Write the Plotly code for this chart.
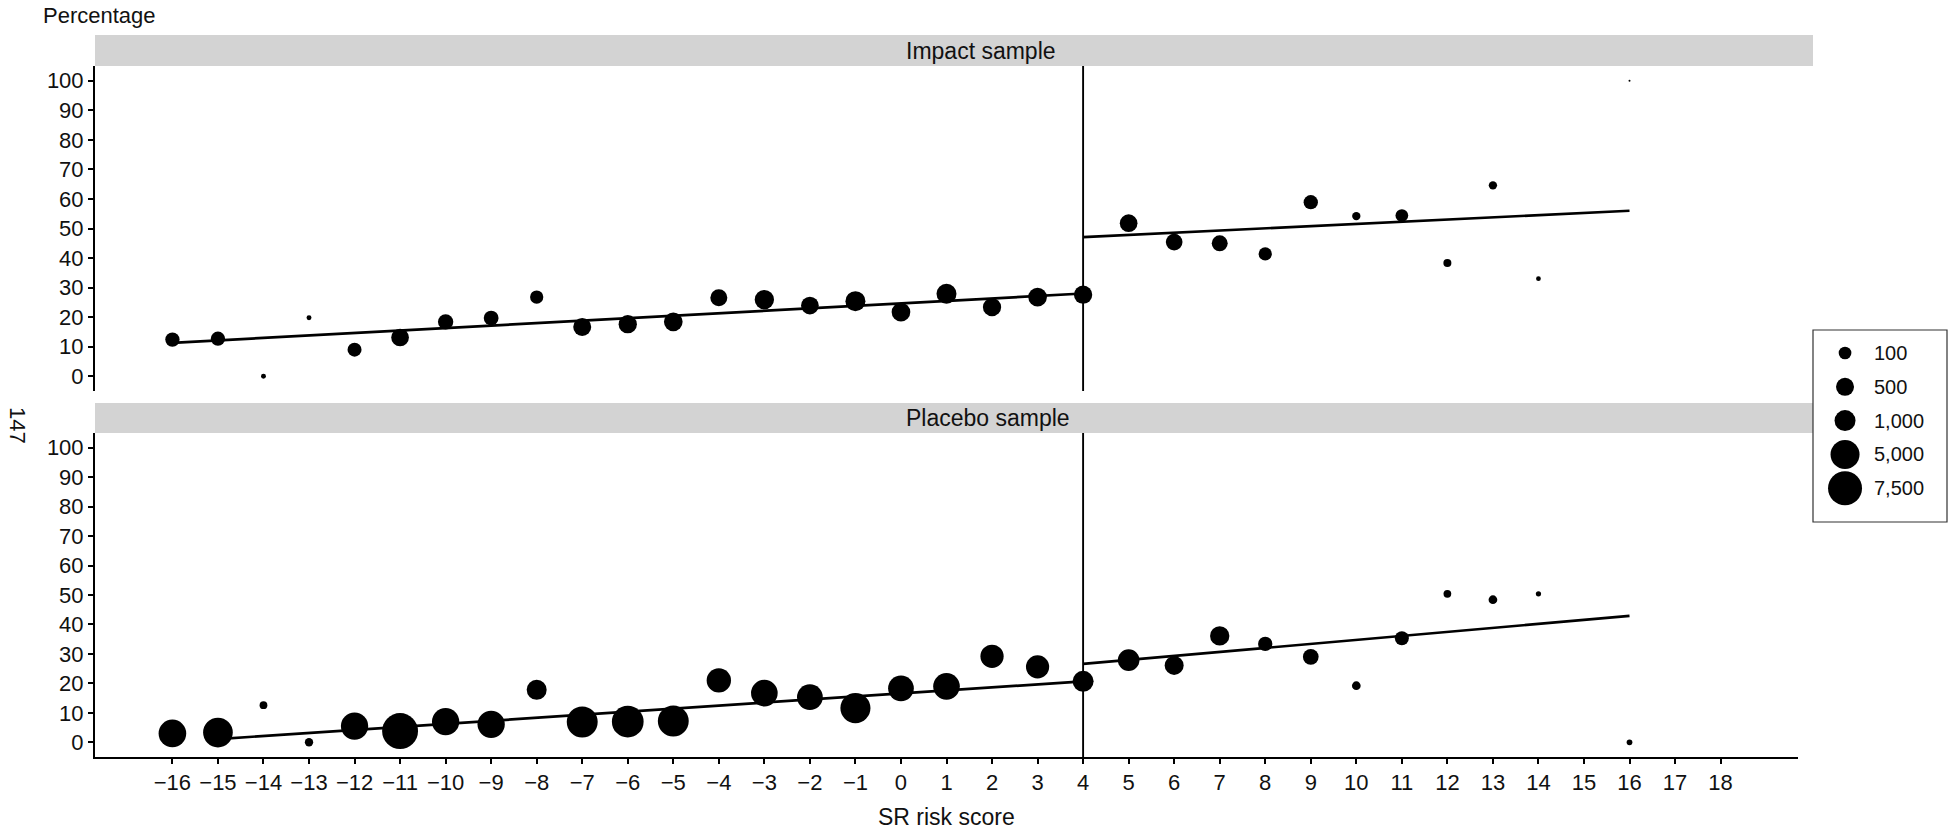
import numpy as np
import plotly.graph_objects as go

# ---------------- data ----------------
scores = list(range(-16, 15)) + [16]
x_ticks = list(range(-16, 19))
y_ticks = list(range(0, 101, 10))
cutoff = 4

impact_pct = [12.4, 12.7, 0, 19.8, 9.0, 13.1, 18.4, 19.7, 26.8, 16.7, 17.6, 18.4,
              26.6, 25.9, 23.9, 25.4, 21.7, 27.9, 23.4, 26.8, 27.6, 51.8, 45.4, 45.0,
              41.4, 58.9, 54.2, 54.4, 38.3, 64.6, 33.0, 100]
impact_n = [190, 190, 12, 12, 170, 470, 260, 220, 130, 500, 540, 600, 400, 700, 470,
            810, 600, 810, 540, 600, 540, 470, 370, 310, 130, 190, 40, 100, 37, 40, 11, 1]

placebo_pct = [3.0, 3.3, 12.6, 0, 5.5, 3.8, 7.0, 6.1, 17.8, 6.9, 7.0, 7.2, 21.0, 16.7,
               15.3, 11.6, 18.3, 19.0, 29.2, 25.6, 20.7, 27.9, 26.1, 36.1, 33.4, 29.0,
               19.2, 35.3, 50.4, 48.4, 50.4, 0]
placebo_n = [4100, 5300, 34, 40, 3900, 8600, 3900, 3900, 810, 5900, 6300, 5900, 2300,
             3500, 3000, 5500, 3000, 3500, 1800, 1800, 1000, 1200, 650, 700, 190, 290,
             44, 170, 34, 44, 14, 17]

# fitted lines (left / right of cutoff)
impact_fit_left_x = [-16, 4]
impact_fit_left_y = [11.3, 28.0]
impact_fit_right_x = [4, 16]
impact_fit_right_y = [47.1, 56.0]
placebo_fit_left_x = [-15, 4]
placebo_fit_left_y = [1.1, 20.7]
placebo_fit_right_x = [4, 16]
placebo_fit_right_y = [26.6, 42.9]

legend_values = [100, 500, 1000, 5000, 7500]
legend_labels = ["100", "500", "1,000", "5,000", "7,500"]

panel_titles = ["Impact sample", "Placebo sample"]

# ---------------- size scale ----------------
scale_n = [1, 100, 500, 1000, 5000, 7500, 10000]
scale_px = [2, 12.7, 18, 21, 29, 34, 38.2]


def diam(n):
    return np.interp(np.sqrt(np.asarray(n, dtype=float)), np.sqrt(scale_n), scale_px)


# ---------------- geometry (pixels) ----------------
W, H = 1959, 833
ML, MR, MT, MB = 95, 10, 35, 76
PW = W - ML - MR
PH = H - MT - MB


def px(xp):
    return (xp - ML) / PW


def py(yp):
    return (H - MB - yp) / PH


FONT = "Arial, 'Liberation Sans', sans-serif"
TXT = "#111111"

x_dom = [0, px(1798)]
top_dom = [py(391), py(66)]
bot_dom = [0, py(433)]
strip_top = [py(66), py(35)]
strip_bot = [py(433), py(403)]

fig = go.Figure()

for pct, n, flx, fly, frx, fry, xa, ya in [
    (impact_pct, impact_n, impact_fit_left_x, impact_fit_left_y,
     impact_fit_right_x, impact_fit_right_y, "x", "y"),
    (placebo_pct, placebo_n, placebo_fit_left_x, placebo_fit_left_y,
     placebo_fit_right_x, placebo_fit_right_y, "x2", "y2"),
]:
    fig.add_trace(go.Scatter(x=scores, y=pct, mode="markers", xaxis=xa, yaxis=ya,
                             marker=dict(color="black", opacity=1, size=diam(n),
                                         line=dict(width=0)),
                             showlegend=False, hoverinfo="skip"))
    fig.add_trace(go.Scatter(x=flx, y=fly, mode="lines", xaxis=xa, yaxis=ya,
                             line=dict(color="black", width=2.7), showlegend=False))
    fig.add_trace(go.Scatter(x=frx, y=fry, mode="lines", xaxis=xa, yaxis=ya,
                             line=dict(color="black", width=2.7), showlegend=False))

# size legend on its own small axis pair
fig.add_trace(go.Scatter(x=[0.239] * len(legend_values), y=list(range(len(legend_values))),
                         mode="markers", xaxis="x3", yaxis="y3",
                         marker=dict(color="black", opacity=1, size=diam(legend_values),
                                     line=dict(width=0)),
                         showlegend=False, hoverinfo="skip"))

yax_common = dict(range=[-5, 105], tickvals=y_ticks, ticks="outside", ticklen=5,
                  tickwidth=1.5, tickcolor="black", showline=True, linewidth=2,
                  linecolor="black", showgrid=False, zeroline=False,
                  tickfont=dict(family=FONT, size=22, color=TXT))

fig.update_layout(
    width=W, height=H,
    margin=dict(l=ML, r=MR, t=MT, b=MB),
    plot_bgcolor="white", paper_bgcolor="white",
    showlegend=False,
    xaxis=dict(domain=x_dom, anchor="y", range=[-17.7, 19.7], showticklabels=False,
               ticks="", showline=False, showgrid=False, zeroline=False),
    yaxis=dict(domain=top_dom, anchor="x", **yax_common),
    xaxis2=dict(domain=x_dom, anchor="y2", range=[-17.7, 19.7], tickvals=x_ticks,
                ticks="outside", ticklen=5, tickwidth=1.5, tickcolor="black",
                showline=True, linewidth=2, linecolor="black", showgrid=False,
                zeroline=False, tickfont=dict(family=FONT, size=22, color=TXT)),
    yaxis2=dict(domain=bot_dom, anchor="x2", **yax_common),
    xaxis3=dict(domain=[px(1813), px(1947)], anchor="y3", range=[0, 1], visible=False),
    yaxis3=dict(domain=[py(522), py(330)], anchor="x3", range=[5.0, -0.68], visible=False),
)

shapes = []
for dom in (strip_top, strip_bot):
    shapes.append(dict(type="rect", xref="paper", yref="paper", x0=0, x1=px(1813),
                       y0=dom[0], y1=dom[1], fillcolor="#D3D3D3", line=dict(width=0),
                       layer="below"))
for xa, ya in (("x", "y"), ("x2", "y2")):
    shapes.append(dict(type="line", xref=xa, yref=ya + " domain", x0=cutoff, x1=cutoff,
                       y0=0, y1=1, line=dict(color="black", width=1.9)))
shapes.append(dict(type="rect", xref="x3 domain", yref="y3 domain", x0=0, x1=1, y0=0, y1=1,
                   line=dict(color="#333333", width=1.2), fillcolor="rgba(0,0,0,0)"))
fig.update_layout(shapes=shapes)

ann = []
ann.append(dict(text=panel_titles[0], xref="paper", yref="paper", x=px(981),
                y=(strip_top[0] + strip_top[1]) / 2, xanchor="center", yanchor="middle",
                showarrow=False, font=dict(family=FONT, size=23, color=TXT)))
ann.append(dict(text=panel_titles[1], xref="paper", yref="paper", x=px(988),
                y=(strip_bot[0] + strip_bot[1]) / 2, xanchor="center", yanchor="middle",
                showarrow=False, font=dict(family=FONT, size=23, color=TXT)))
ann.append(dict(text="Percentage", xref="paper", yref="paper", x=px(41), y=py(15),
                xanchor="left", yanchor="middle", showarrow=False,
                font=dict(family=FONT, size=22, color=TXT)))
ann.append(dict(text="SR risk score", xref="paper", yref="paper", x=px(946.5), y=py(817),
                xanchor="center", yanchor="middle", showarrow=False,
                font=dict(family=FONT, size=23, color=TXT)))
ann.append(dict(text="147", xref="paper", yref="paper", x=px(17), y=py(425),
                xanchor="center", yanchor="middle", showarrow=False, textangle=90,
                font=dict(family=FONT, size=22, color=TXT)))
for i, lab in enumerate(legend_labels):
    ann.append(dict(text=lab, xref="x3", yref="y3", x=0.44, y=i, xanchor="left",
                    yanchor="middle", showarrow=False,
                    font=dict(family=FONT, size=20, color=TXT)))
fig.update_layout(annotations=ann)

fig.write_html("out.html", config={"displayModeBar": False},
               post_script="document.body.style.margin='0';")
